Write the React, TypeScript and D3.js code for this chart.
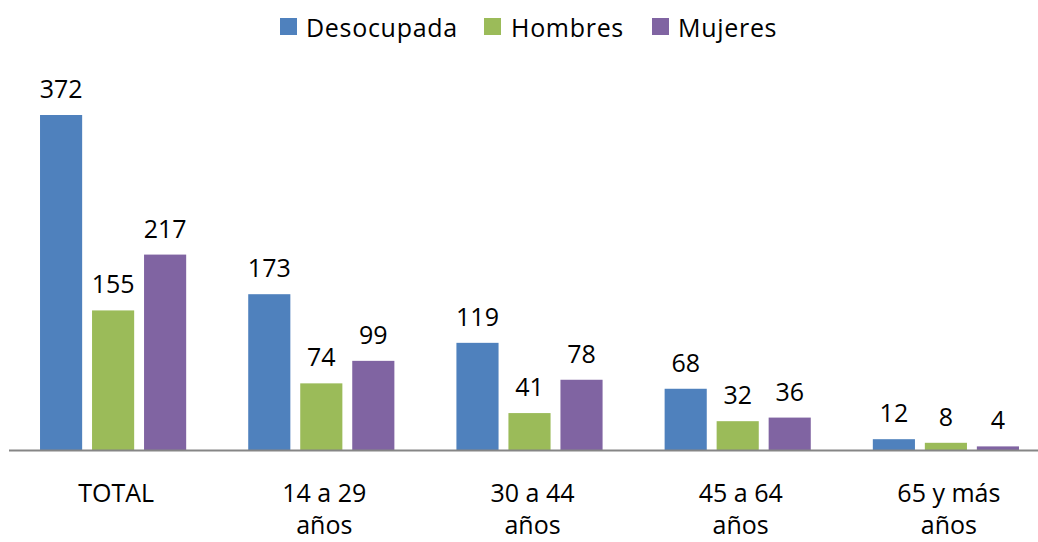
import React from 'react';
import * as d3 from 'd3';

const categories: string[][] = [['TOTAL'], ['14 a 29', 'años'], ['30 a 44', 'años'], ['45 a 64', 'años'], ['65 y más', 'años']];
const seriesNames = ['Desocupada', 'Hombres', 'Mujeres'];
const desocupada = [372, 173, 119, 68, 12];
const hombres = [155, 74, 41, 32, 8];
const mujeres = [217, 99, 78, 36, 4];
const seriesColors = ['#4F81BD', '#9BBB59', '#8064A2'];

const W = 1038;
const H = 542;
const FONT = '"Open Sans", sans-serif';

const App: React.FC = () => {
  const values = [desocupada, hombres, mujeres];
  const catKeys = categories.map(c => c.join(' '));

  const x0 = d3.scaleBand<string>().domain(catKeys).range([9, 1050]).padding(0);
  const bw = x0.bandwidth();
  const x1 = d3.scaleBand<string>()
    .domain(seriesNames)
    .range([bw * 0.149, bw * 0.851])
    .paddingInner(0.19);
  const y = d3.scaleLinear().domain([0, 372]).range([450, 115]);

  // legend positions
  const legendItems = [
    { sq: 280, tx: 306 },
    { sq: 484, tx: 511 },
    { sq: 652, tx: 678 },
  ];

  return (
    <svg width={W} height={H} style={{ position: 'absolute', left: 0, top: 0, background: '#fff' }} fontFamily={FONT}>
      {/* legend */}
      {seriesNames.map((s, i) => (
        <g key={s}>
          <rect x={legendItems[i].sq} y={18} width={17} height={17} fill={seriesColors[i]} />
          <text x={legendItems[i].tx} y={37} fontSize={25} letterSpacing={0.7} fill="#000">{s}</text>
        </g>
      ))}

      {/* bars */}
      {catKeys.map((c, ci) => (
        <g key={c} transform={`translate(${x0(c)},0)`}>
          {seriesNames.map((s, si) => {
            const v = values[si][ci];
            const bx = x1(s) as number;
            return (
              <g key={s}>
                <rect x={bx} y={y(v)} width={x1.bandwidth()} height={450 - y(v)} fill={seriesColors[si]} />
                <text x={bx + x1.bandwidth() / 2} y={y(v) - 17} textAnchor="middle" fontSize={25} fill="#000">{v}</text>
              </g>
            );
          })}
        </g>
      ))}

      {/* axis */}
      <line x1={9} x2={W} y1={450.5} y2={450.5} stroke="#868686" strokeWidth={2} />

      {/* category labels */}
      {categories.map((lines, ci) => (
        <text key={ci} x={(x0(catKeys[ci]) as number) + bw / 2 + 3} y={502} textAnchor="middle" fontSize={25} fill="#000">
          {lines.map((l, li) => (
            <tspan key={li} x={(x0(catKeys[ci]) as number) + bw / 2 + 3} dy={li === 0 ? 0 : 32}>{l}</tspan>
          ))}
        </text>
      ))}
    </svg>
  );
};

export default App;
